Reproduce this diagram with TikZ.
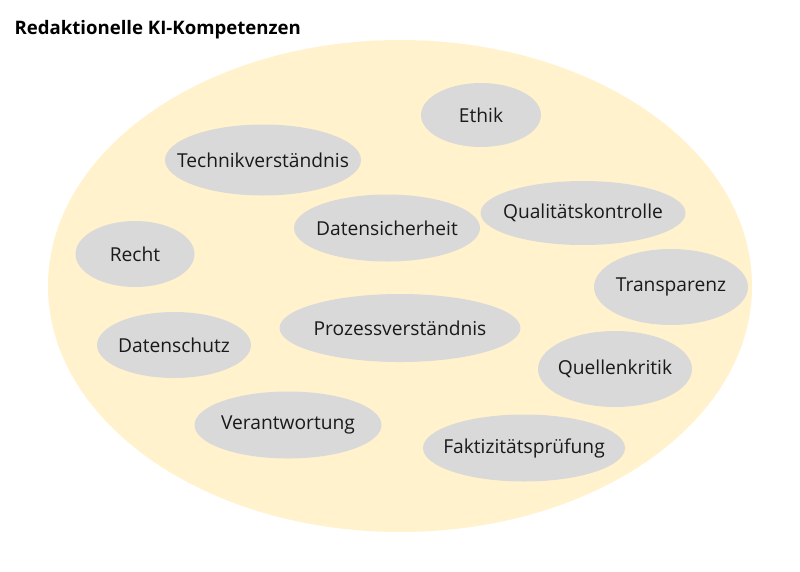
\documentclass[tikz,border=0pt]{standalone}
\usepackage{fontspec}
\setmainfont{Open Sans}
\usetikzlibrary{shapes.geometric}
\definecolor{bgyellow}{HTML}{FFF2CC}
\definecolor{skill}{HTML}{D9D9D9}
\definecolor{ink}{HTML}{1A1A1A}
\newcommand{\skilltext}[1]{\makebox[0pt]{#1}}
\begin{document}
\begin{tikzpicture}[x=1pt,y=-1pt,
  skillnode/.style={ellipse, fill=skill, inner sep=0pt, text=ink, font=\fontsize{19.2}{22}\selectfont},
]
\useasboundingbox (0,0) rectangle (800,571);
\node[ellipse, fill=bgyellow, minimum width=704pt, minimum height=492pt, inner sep=0pt] (area) at (400,286) {};
\node[anchor=west, font=\bfseries\fontsize{18.6}{22}\selectfont, text=black] (title) at (11,30) {Redaktionelle KI-Kompetenzen};
\node[skillnode, minimum width=120pt, minimum height=64pt] (ethik) at (481,115) {\skilltext{Ethik}};
\node[skillnode, minimum width=196pt, minimum height=71pt] (technik) at (263,160) {\skilltext{Technikverständnis}};
\node[skillnode, minimum width=186pt, minimum height=67pt] (datensich) at (387,228) {\skilltext{Datensicherheit}};
\node[skillnode, minimum width=205pt, minimum height=64pt] (qualitaet) at (583,213) {\skilltext{Qualitätskontrolle}};
\node[skillnode, minimum width=119pt, minimum height=66pt] (recht) at (135,254) {\skilltext{Recht}};
\node[skillnode, minimum width=154pt, minimum height=76pt] (transparenz) at (671,287) {\skilltext{Transparenz}};
\node[skillnode, minimum width=241pt, minimum height=68pt] (prozess) at (400,328) {\skilltext{Prozessverständnis}};
\node[skillnode, minimum width=154pt, minimum height=66pt] (datenschutz) at (174,345) {\skilltext{Datenschutz}};
\node[skillnode, minimum width=154pt, minimum height=76pt] (quellen) at (615,369) {\skilltext{Quellenkritik}};
\node[skillnode, minimum width=187pt, minimum height=67pt] (verantw) at (288,425) {\skilltext{Verantwortung}};
\node[skillnode, minimum width=202pt, minimum height=67pt] (fakt) at (524,448) {\skilltext{Faktizitätsprüfung}};
\end{tikzpicture}
\end{document}
